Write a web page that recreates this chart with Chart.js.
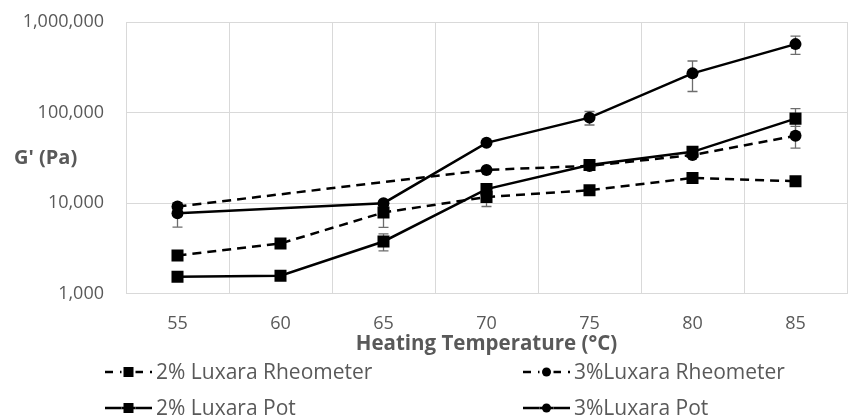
<!DOCTYPE html>
<html>
<head>
<meta charset="utf-8">
<script src="https://cdn.jsdelivr.net/npm/chart.js@4.4.0/dist/chart.umd.min.js"></script>
<style>
  html, body { margin: 0; padding: 0; background: #fff; }
  #wrap { width: 849px; height: 420px; }
</style>
</head>
<body>
<div id="wrap"><canvas id="chart"></canvas></div>
<script>
const categories = ['55', '60', '65', '70', '75', '80', '85'];
const yTicks = [1000, 10000, 100000, 1000000];

const rheo2 = [2640, 3590, 7900, 11700, 13900, 19000, 17500];
const rheo3 = [9200, null, null, 23300, 25800, 34000, 55500];
const pot2 = [1545, 1580, 3780, 14300, 26400, 36900, 85800];
const pot3 = [7740, null, 10000, 46400, 88000, 271000, 570000];

const rheo2Err = [null, null, 2500, 2500, null, null, null];
const rheo3Err = [null, null, null, null, null, null, 15000];
const pot2Err = [null, null, 800, null, null, null, 25000];
const pot3Err = [2300, null, null, null, 15000, 100000, 130000];

const labelNames = ['2% Luxara Rheometer', '3%Luxara Rheometer', '2% Luxara Pot', '3%Luxara Pot'];

const grey = '#595959';
const font = 'Open Sans';

function series(label, data, err, shape, dashed) {
    return {
        label: label,
        data: data,
        errors: err,
        borderColor: '#000',
        backgroundColor: '#000',
        borderWidth: 2.5,
        borderDash: dashed ? [9, 6] : [],
        pointStyle: shape,
        pointRadius: shape === 'rect' ? 8.5 : 6,
        pointBorderWidth: 0,
        spanGaps: true,
        tension: 0
    };
}

// error bars, drawn under the markers
const errorBars = {
    id: 'errorBars',
    beforeDatasetsDraw(chart) {
        const ctx = chart.ctx;
        const y = chart.scales.y;
        ctx.save();
        ctx.strokeStyle = '#6d6d6d';
        ctx.lineWidth = 1.3;
        chart.data.datasets.forEach((ds, i) => {
            const meta = chart.getDatasetMeta(i);
            ds.errors.forEach((e, j) => {
                if (e == null || ds.data[j] == null) return;
                const x = meta.data[j].x;
                const top = y.getPixelForValue(ds.data[j] + e);
                const bot = y.getPixelForValue(Math.max(ds.data[j] - e, 1));
                ctx.beginPath();
                ctx.moveTo(x, top); ctx.lineTo(x, bot);
                ctx.moveTo(x - 5, top); ctx.lineTo(x + 5, top);
                ctx.moveTo(x - 5, bot); ctx.lineTo(x + 5, bot);
                ctx.stroke();
            });
        });
        ctx.restore();
    }
};

// y title (horizontal) and two-column legend
const extras = {
    id: 'extras',
    afterDraw(chart) {
        const ctx = chart.ctx;
        ctx.save();
        ctx.fillStyle = grey;
        ctx.font = 'bold 20px "' + font + '"';
        ctx.textBaseline = 'middle';
        ctx.textAlign = 'left';
        ctx.fillText("G' (Pa)", 14, 158);

        const spots = [[105, 372], [523, 372], [105, 408], [523, 408]];
        chart.data.datasets.forEach((ds, k) => {
            const [lx, ly] = spots[k];
            const w = 47;
            const dashed = ds.borderDash.length > 0;
            ctx.strokeStyle = '#000';
            ctx.lineWidth = 2.5;
            ctx.setLineDash(dashed ? [8, 7] : []);
            ctx.beginPath();
            ctx.moveTo(lx, ly); ctx.lineTo(lx + w, ly);
            ctx.stroke();
            ctx.setLineDash([]);
            ctx.fillStyle = '#fff';
            ctx.fillRect(lx + w / 2 - 7, ly - 3, 14, 6);
            ctx.fillStyle = '#000';
            if (ds.pointStyle === 'rect') {
                ctx.fillRect(lx + w / 2 - 5, ly - 5, 10, 10);
            } else {
                ctx.beginPath();
                ctx.arc(lx + w / 2, ly, 4.5, 0, Math.PI * 2);
                ctx.fill();
            }
            if (!dashed) { ctx.fillRect(lx + w / 2 - 7, ly - 1.25, 14, 2.5); }
            ctx.fillStyle = grey;
            ctx.font = '21px "' + font + '"';
            ctx.fillText(labelNames[k], lx + 51, ly + 1);
        });
        ctx.restore();
    }
};

new Chart(document.querySelector('#chart').getContext('2d'), {
    type: 'line',
    data: {
        labels: categories,
        datasets: [
            series(labelNames[0], rheo2, rheo2Err, 'rect', true),
            series(labelNames[1], rheo3, rheo3Err, 'circle', true),
            series(labelNames[2], pot2, pot2Err, 'rect', false),
            series(labelNames[3], pot3, pot3Err, 'circle', false)
        ]
    },
    options: {
        responsive: true,
        maintainAspectRatio: false,
        animation: false,
        layout: { autoPadding: false, padding: { top: 22, right: 2, left: 0, bottom: 64 } },
        plugins: { legend: { display: false }, tooltip: { enabled: false } },
        scales: {
            x: {
                offset: true,
                grid: { offset: true, color: '#d9d9d9', drawTicks: false },
                border: { color: '#d9d9d9' },
                ticks: { color: grey, font: { family: font, size: 18 }, padding: 19 },
                title: {
                    display: true,
                    text: 'Heating Temperature (°C)',
                    color: grey,
                    font: { family: font, size: 20.5, weight: 'bold' },
                    padding: { top: -22, bottom: 0 }
                }
            },
            y: {
                type: 'logarithmic',
                min: 1000,
                max: 1000000,
                afterBuildTicks(scale) { scale.ticks = yTicks.map(v => ({ value: v })); },
                afterFit(scale) {
                    scale.width = 126;
                    scale.paddingTop = 0;
                    scale.paddingBottom = 0;
                },
                grid: { color: '#d9d9d9', drawTicks: false },
                border: { color: '#d9d9d9' },
                ticks: {
                    color: grey,
                    font: { family: font, size: 18 },
                    padding: 22,
                    callback: v => v.toLocaleString('en-US')
                }
            }
        }
    },
    plugins: [errorBars, extras]
});
</script>
</body>
</html>
